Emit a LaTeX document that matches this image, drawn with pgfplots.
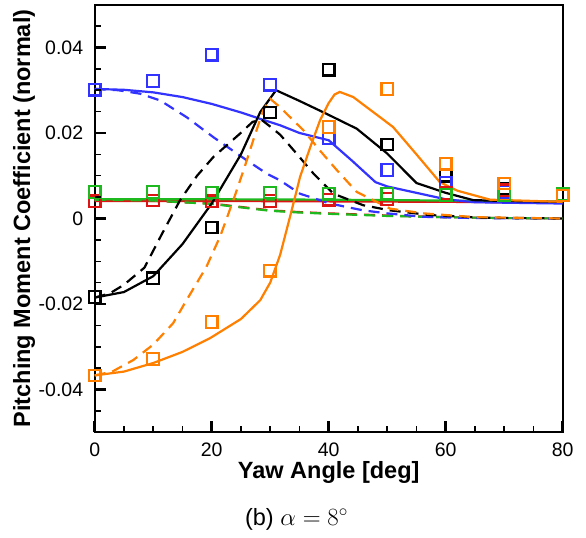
\documentclass[border=0pt]{standalone}
\usepackage{pgfplots}
\pgfplotsset{compat=1.18}
\usepackage{fontspec}
\setmainfont{Liberation Sans}
\definecolor{cblue}{RGB}{51,51,255}
\definecolor{corange}{RGB}{255,128,0}
\definecolor{cgreen}{RGB}{30,185,30}
\definecolor{cred}{RGB}{220,20,20}
\begin{document}
\begin{tikzpicture}
\path[use as bounding box] (-94.7bp,-105.7bp) rectangle (491.3bp,432.3bp);
\begin{axis}[
  name=ax,
  at={(0,0)}, anchor=south west,
  scale only axis, width=468bp, height=427.6bp,
  xmin=0, xmax=80, ymin=-0.05, ymax=0.05,
  clip=false,
  scaled x ticks=false, scaled y ticks=false,
  axis line style={line width=1.8bp},
  xtick={0,20,40,60,80}, xticklabels={0,20,40,60,80},
  ytick={-0.04,-0.02,0,0.02,0.04}, yticklabels={-0.04,-0.02,0,0.02,0.04},
  minor x tick num=3, minor y tick num=3,
  tick align=inside, tick pos=left,
  major tick length=0pt, minor tick length=0pt,
  ticklabel style={font=\fontsize{19.5bp}{23bp}\selectfont},
  xticklabel shift=7bp, yticklabel shift=8bp,
  xlabel={\bfseries Yaw Angle [deg]},
  ylabel={\bfseries Pitching Moment Coefficient (normal)},
  label style={font=\fontsize{23.5bp}{28bp}\selectfont},
  xlabel style={at={(axis description cs:0.5,-0.0935)}, anchor=center},
  ylabel style={at={(axis description cs:-0.1511,0.5)}, anchor=center},
  every axis plot/.append style={line width=2.2bp},
  dashline/.style={dash pattern=on 11bp off 7bp},
  expmark/.style={only marks, mark=square, mark size=5.8bp, mark options={line width=2.2bp, solid}},
]
% ---- red ----
\addplot[cred] coordinates {(0,0.0041)(20,0.0041)(40,0.0040)(60,0.0039)(80,0.0037)};
\addplot[cred, dashline] coordinates {(0,0.0043)(10,0.0041)(20,0.0035)(25,0.0027)(30,0.0019)(35,0.0015)(40,0.0012)(50,0.0007)(60,0.0003)(70,0.0001)(80,0)};
% ---- green ----
\addplot[cgreen] coordinates {(0,0.0045)(20,0.0045)(40,0.0044)(60,0.0042)(80,0.0039)};
\addplot[cgreen, dashline] coordinates {(0,0.0044)(10,0.0042)(20,0.0034)(25,0.0026)(30,0.0018)(35,0.0014)(40,0.0011)(50,0.0006)(60,0.0003)(70,0.0001)(80,0)};
% ---- blue ----
\addplot[cblue] coordinates {(0,0.0303)(5,0.0301)(10,0.0295)(15,0.0284)(20,0.0268)(25,0.0248)(28.3,0.0233)(31.7,0.0218)(35,0.0200)(40,0.0183)(44,0.0135)(48,0.0085)(50,0.0075)(55,0.0060)(60,0.0045)(65,0.0038)(70,0.0037)(80,0.0035)};
\addplot[cblue, dashline] coordinates {(0,0.0303)(4,0.0300)(7.7,0.0292)(11.2,0.0276)(15.7,0.0237)(20.3,0.0190)(26,0.0136)(29.4,0.0105)(31.7,0.0089)(35.1,0.0058)(40.2,0.0035)(45.9,0.0019)(50,0.0012)(56.1,0.0004)(65,0.0001)(80,0)};
% ---- black ----
\addplot[black] coordinates {(0,-0.0185)(5,-0.0172)(10,-0.0135)(15,-0.0060)(20,0.0035)(25,0.0150)(28.3,0.0249)(31,0.0300)(35,0.0275)(39.6,0.0245)(44.8,0.0210)(50,0.0152)(55,0.0083)(60,0.0060)(64.7,0.0043)(70,0.0041)(80,0.0039)};
\addplot[black, dashline] coordinates {(0,-0.0185)(2.6,-0.0175)(5,-0.0155)(8.5,-0.0115)(11.5,-0.0036)(14.6,0.0043)(17.5,0.0100)(20.3,0.0144)(24.8,0.0198)(27,0.0226)(28.5,0.0231)(30,0.0215)(31.7,0.0196)(34.5,0.0152)(37.4,0.0105)(40.8,0.0058)(45.9,0.0031)(50.5,0.0019)(57.3,0.0008)(65.9,0.0002)(80,0)};
% ---- orange ----
\addplot[corange] coordinates {(0,-0.0367)(5,-0.0358)(10,-0.0338)(15,-0.0312)(19.7,-0.0280)(25,-0.0235)(28.3,-0.0191)(30,-0.0150)(31.7,-0.0085)(33.5,0.0010)(35.1,0.0097)(36.8,0.0165)(38.5,0.0229)(40,0.0270)(41,0.0290)(41.9,0.0296)(44.2,0.0284)(51,0.0214)(55,0.0150)(59,0.0085)(62,0.0065)(67.6,0.0044)(80,0.0039)};
\addplot[corange, dashline] coordinates {(0,-0.0367)(3,-0.0358)(6.6,-0.0331)(10,-0.0295)(13.4,-0.0245)(15.7,-0.0191)(19.1,-0.0113)(21.5,-0.0040)(23.7,0.0043)(25.5,0.0115)(27.1,0.0183)(28.8,0.0253)(30,0.0280)(31.7,0.0260)(35.7,0.0206)(38.5,0.0159)(41.4,0.0113)(44.8,0.0062)(50.5,0.0023)(56.2,0.0012)(65,0.0003)(80,0)};
% ---- experimental markers ----
\addplot[black, expmark] coordinates {(0,-0.0184)(10,-0.0140)(20,-0.0021)(30,0.0248)(40,0.0348)(50,0.0173)(60,0.0100)(70,0.0070)(80,0.0055)};
\addplot[cblue, expmark] coordinates {(0,0.0301)(10,0.0322)(20,0.0383)(30,0.0313)(40,0.0187)(50,0.0113)(60,0.0083)(70,0.0062)(80,0.0054)};
\addplot[cred, expmark] coordinates {(0,0.0040)(10,0.0042)(20,0.0040)(30,0.0041)(40,0.0044)(50,0.0046)(60,0.0060)(70,0.0066)(80,0.0055)};
\addplot[cgreen, expmark] coordinates {(0,0.0062)(10,0.0062)(20,0.0061)(30,0.0061)(40,0.0058)(50,0.0058)(60,0.0055)(70,0.0055)(80,0.0057)};
\addplot[corange, expmark] coordinates {(0,-0.0367)(10,-0.0329)(20,-0.0242)(30,-0.0122)(40,0.0214)(50,0.0303)(60,0.0128)(70,0.0082)(80,0.0054)};
\end{axis}
% axis frame ticks (decoration), drawn from the named axis corner
\foreach \d in {0,117,234,351,468}
  \draw[black, line width=2.6bp] ([xshift=\d bp]ax.south west) -- ++(0,11bp);
\foreach \d in {29.25,58.5,87.75,146.25,175.5,204.75,263.25,292.5,321.75,380.25,409.5,438.75}
  \draw[black, line width=1.5bp] ([xshift=\d bp]ax.south west) -- ++(0,6.5bp);
\foreach \d in {42.76,128.28,213.8,299.32,384.84}
  \draw[black, line width=2.6bp] ([yshift=\d bp]ax.south west) -- ++(11bp,0);
\foreach \d in {21.38,64.14,85.52,106.9,149.66,171.04,192.42,235.18,256.56,277.94,320.7,342.08,363.46,406.22}
  \draw[black, line width=1.5bp] ([yshift=\d bp]ax.south west) -- ++(6.5bp,0);
\node[font=\fontsize{23.5bp}{28bp}\selectfont] at (201.8bp,-86.7bp) {(b) $\alpha=8^\circ$};
\end{tikzpicture}
\end{document}
